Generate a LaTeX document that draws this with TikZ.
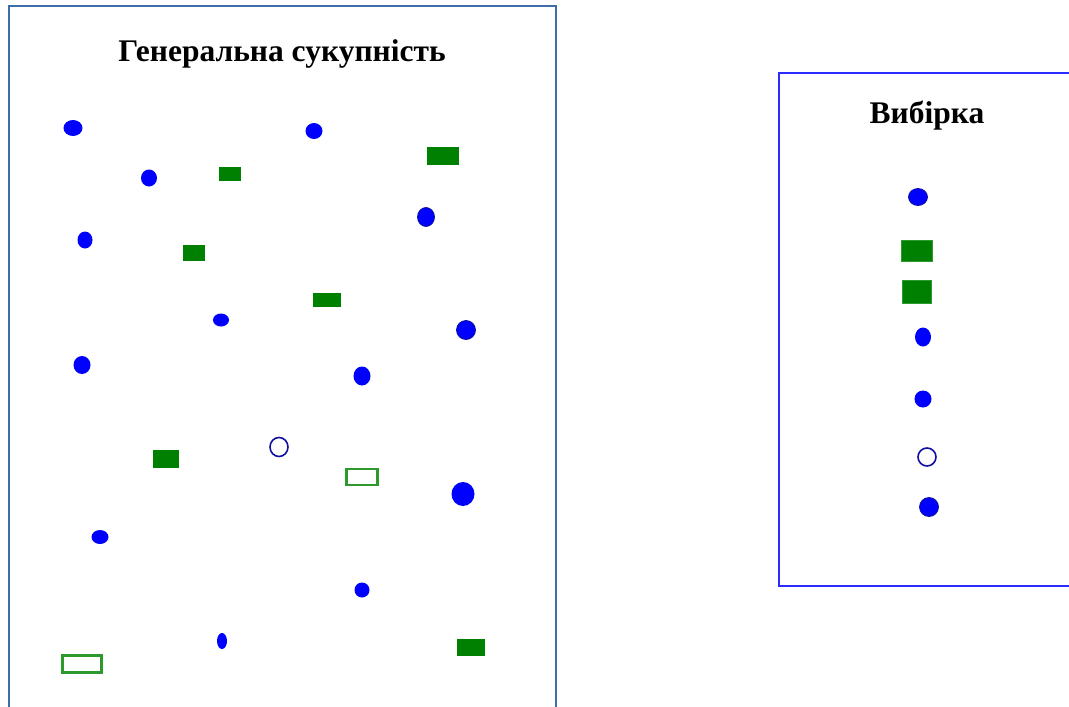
\documentclass[tikz,border=0pt]{standalone}
\usepackage{fontspec}
\setmainfont{Liberation Serif}
\usetikzlibrary{shapes.geometric}
\definecolor{framecol}{HTML}{3F6DAA}
\definecolor{sampcol}{HTML}{2B2BFF}
\definecolor{dotblue}{HTML}{0000FF}
\definecolor{ringblue}{HTML}{1010A0}
\definecolor{barg}{HTML}{008000}
\definecolor{openg}{HTML}{2E9A2E}
\tikzset{
  frm/.style={draw=framecol,line width=1.8pt,inner sep=0pt,anchor=north west},
  sfrm/.style={draw=sampcol,line width=1.8pt,inner sep=0pt,anchor=north west},
  ttl/.style={font=\fontsize{31.5}{38}\selectfont\bfseries,inner sep=0pt,anchor=base},
  bdot/.style={ellipse,fill=dotblue,inner sep=0pt},
  rdot/.style={bdot,draw=ringblue,line width=0.8pt},
  bopen/.style={ellipse,draw=ringblue,line width=1.6pt,inner sep=0pt},
  gbar/.style={rectangle,fill=barg,inner sep=0pt},
  gopen/.style={rectangle,draw=openg,line width=2.2pt,inner sep=0pt},
}
\begin{document}
\begin{tikzpicture}[x=1pt,y=-1pt]
  \useasboundingbox (0,0) rectangle (1069,707);
  \clip (0,0) rectangle (1069,707);
  % population
  \node[frm,minimum width=547pt,minimum height=715pt] (popbox) at (8,5) {};
  \node[ttl] (poptitle) at (282,61) {Генеральна сукупність};
  \foreach \n/\x/\y/\w/\h in {p1/73/128/19/16,p2/149/178/16/17,p3/314/131/17/16,
      p4/85/240/15/17,p5/221/320/16/13,p6/82/365/17/18,p7/362/376/17/19,
      p8/463/494/23/24,p9/100/537/17/14,p10/362/590/15/15,p11/222/641/10/16} {
    \node[bdot,minimum width=\w pt,minimum height=\h pt] (\n) at (\x,\y) {};
  }
  \foreach \n/\x/\y/\w/\h in {pr1/426/217/17/19,pr2/466/330/19/19} {
    \node[rdot,minimum width=\w pt,minimum height=\h pt] (\n) at (\x,\y) {};
  }
  \node[bopen,minimum width=18pt,minimum height=19pt] (po1) at (279,447) {};
  \foreach \n/\x/\y/\w/\h in {pg1/230/174/22/14,pg2/443/156/32/18,pg3/194/253/22/16,
      pg4/327/300/28/14,pg5/166/459/26/18,pg6/471/647/28/17} {
    \node[gbar,minimum width=\w pt,minimum height=\h pt] (\n) at (\x,\y) {};
  }
  \node[gopen,minimum width=31pt,minimum height=16pt] (pq1) at (362,477) {};
  \node[gopen,minimum width=39pt,minimum height=17pt] (pq2) at (82,664) {};
  % sample
  \node[sfrm,minimum width=310pt,minimum height=513pt] (sampbox) at (778,72) {};
  \node[ttl] (samptitle) at (927,123) {Вибірка};
  \node[rdot,minimum width=19pt,minimum height=17pt] (s1) at (918,197) {};
  \node[gbar,draw=openg,line width=0.8pt,minimum width=31pt,minimum height=21pt] (s2) at (917,251) {};
  \node[gbar,draw=openg,line width=0.8pt,minimum width=29pt,minimum height=23pt] (s3) at (917,292) {};
  \node[bdot,minimum width=16pt,minimum height=19pt] (s4) at (923,337) {};
  \node[bdot,minimum width=17pt,minimum height=17pt] (s5) at (923,399) {};
  \node[bopen,minimum width=18pt,minimum height=18pt] (s6) at (927,457) {};
  \node[rdot,minimum width=19pt,minimum height=19pt] (s7) at (929,507) {};
\end{tikzpicture}
\end{document}
